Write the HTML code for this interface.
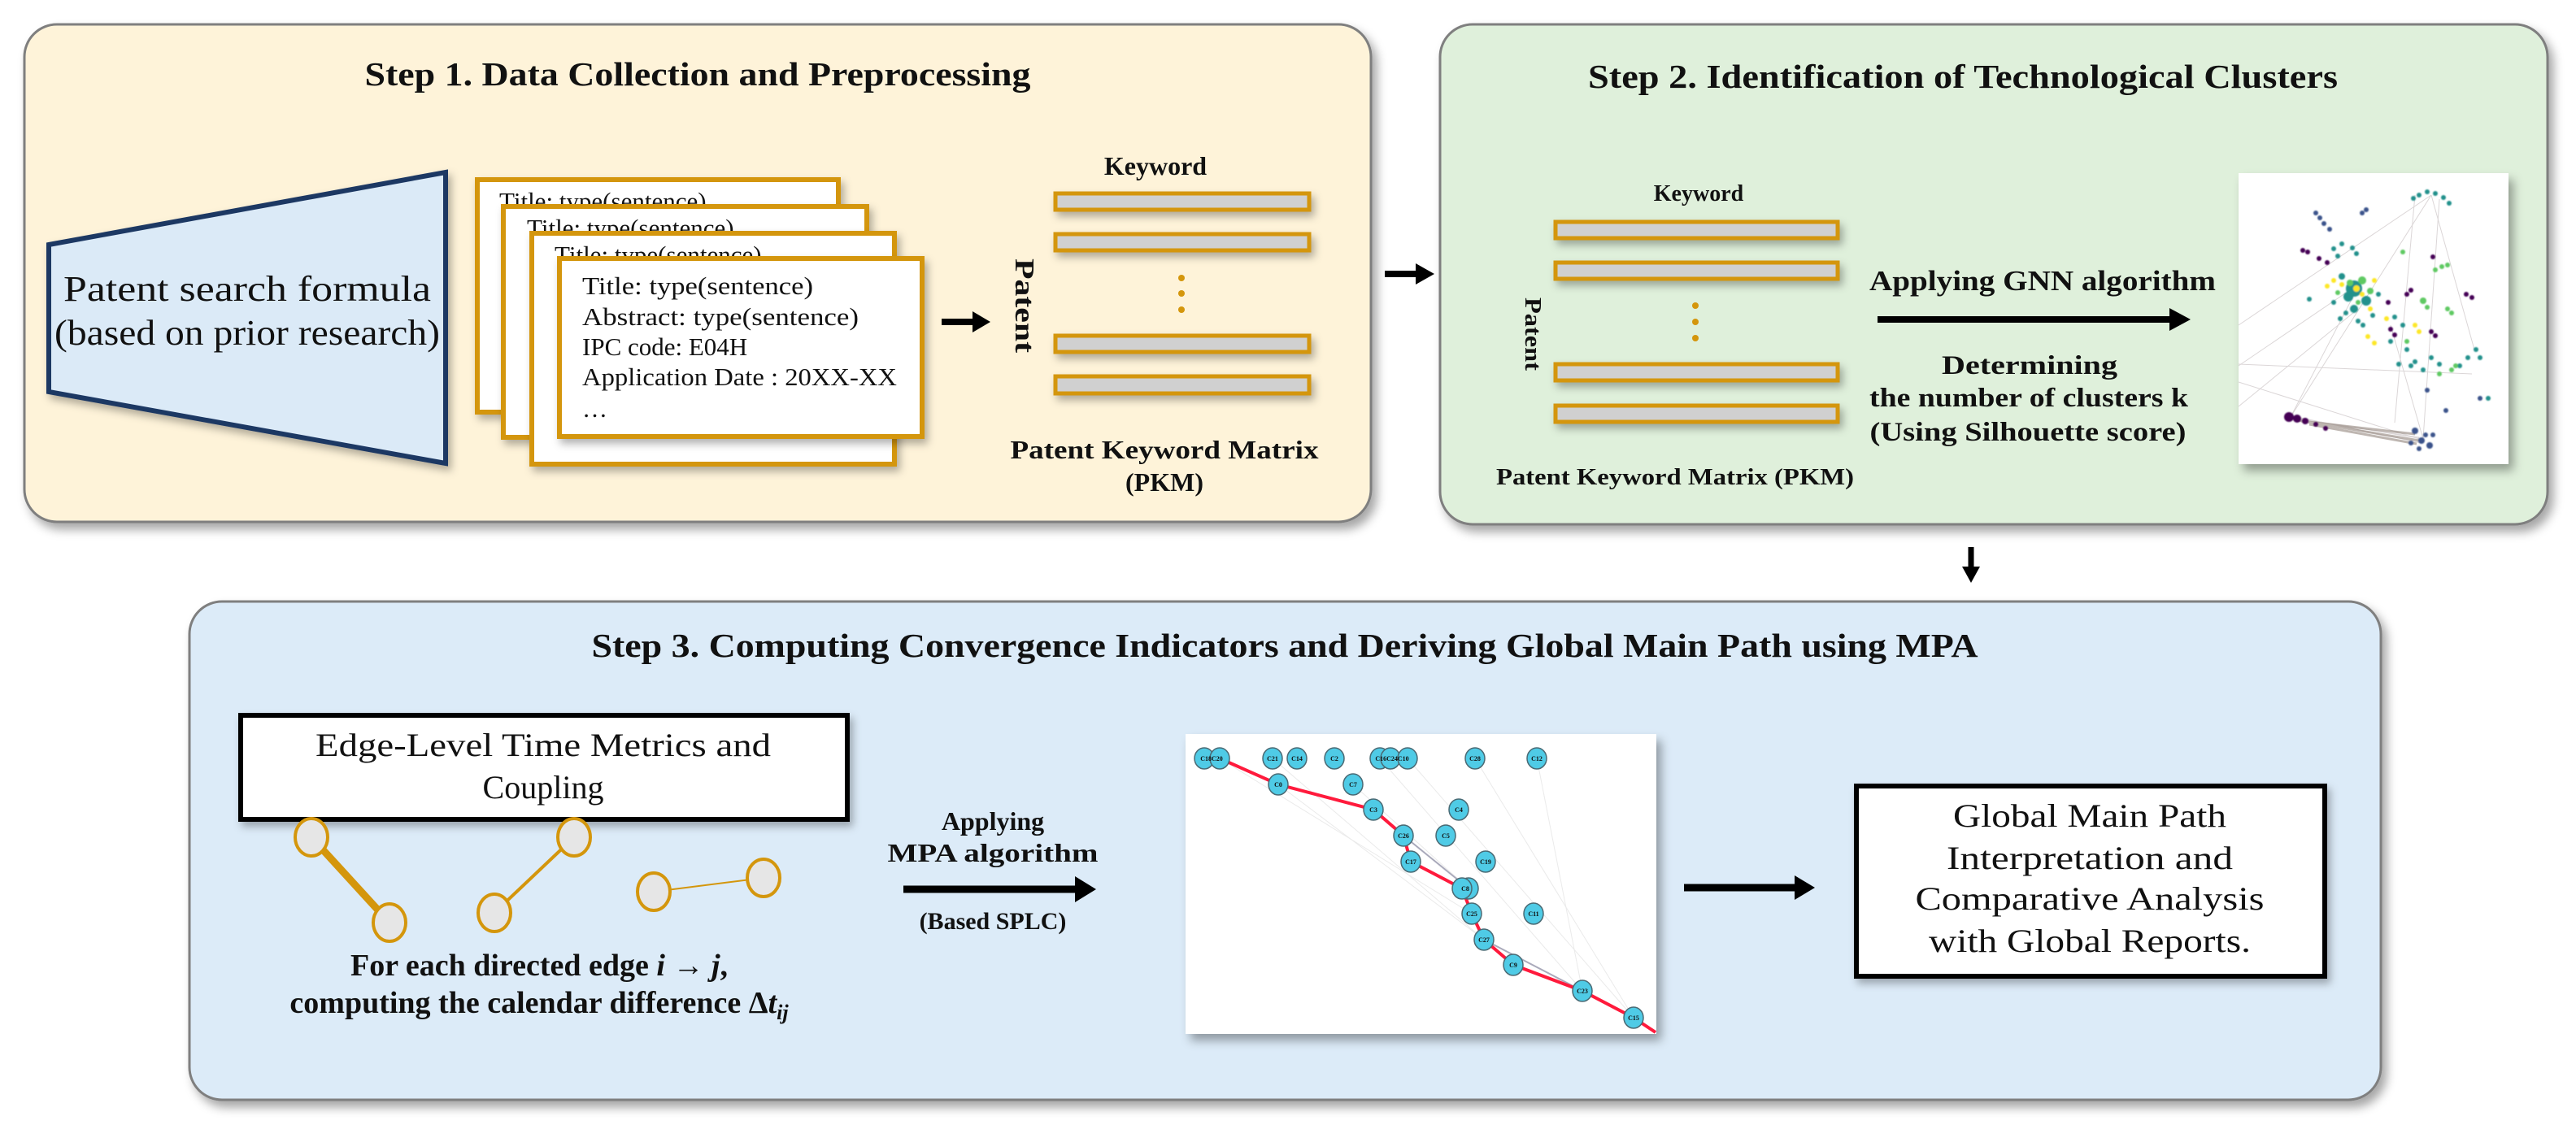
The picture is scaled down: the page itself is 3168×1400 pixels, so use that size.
<!DOCTYPE html>
<html><head><meta charset="utf-8"><style>
html,body{margin:0;padding:0;background:#fff;}
svg{display:block;}
text{font-family:"Liberation Serif",serif;fill:#111;}
</style></head><body>
<svg width="3168" height="1400" viewBox="0 0 3168 1400" xmlns="http://www.w3.org/2000/svg">
<defs>
<filter id="sh" x="-10%" y="-10%" width="130%" height="130%"><feDropShadow dx="6" dy="8" stdDeviation="6" flood-color="#000" flood-opacity="0.35"/></filter>
<filter id="sh2" x="-10%" y="-10%" width="130%" height="130%"><feDropShadow dx="4" dy="6" stdDeviation="5" flood-color="#000" flood-opacity="0.3"/></filter>
<filter id="bl"><feGaussianBlur stdDeviation="0.8"/></filter>
</defs>

<!-- STEP 1 panel -->
<rect x="30" y="30" width="1656" height="612" rx="40" fill="#fef3d9" stroke="#7f7f7f" stroke-width="3" filter="url(#sh)"/>
<text x="858" y="105" font-size="41" font-weight="bold" text-anchor="middle" textLength="819" lengthAdjust="spacingAndGlyphs">Step 1. Data Collection and Preprocessing</text>

<polygon points="60,301 548,212 548,570 60,482" fill="#dbeaf7" stroke="#1f3864" stroke-width="6" filter="url(#sh2)"/>
<text x="304" y="370" font-size="44" text-anchor="middle" textLength="452" lengthAdjust="spacingAndGlyphs">Patent search formula</text>
<text x="304" y="424" font-size="44" text-anchor="middle" textLength="474" lengthAdjust="spacingAndGlyphs">(based on prior research)</text>

<rect x="587" y="221" width="444" height="286" fill="#fff" stroke="#d4960c" stroke-width="6" filter="url(#sh2)"/>
<text x="614" y="258" font-size="31">Title: type(sentence)</text>
<rect x="619" y="254" width="447" height="284" fill="#fff" stroke="#d4960c" stroke-width="6" filter="url(#sh2)"/>
<text x="648" y="291" font-size="31">Title: type(sentence)</text>
<rect x="654" y="287" width="446" height="284" fill="#fff" stroke="#d4960c" stroke-width="6" filter="url(#sh2)"/>
<text x="682" y="324" font-size="31">Title: type(sentence)</text>
<rect x="688" y="318" width="446" height="219" fill="#fff" stroke="#d4960c" stroke-width="6" filter="url(#sh2)"/>
<g font-size="31">
<text x="716" y="362" textLength="284" lengthAdjust="spacingAndGlyphs">Title: type(sentence)</text>
<text x="716" y="400" textLength="340" lengthAdjust="spacingAndGlyphs">Abstract: type(sentence)</text>
<text x="716" y="437">IPC code: E04H</text>
<text x="716" y="474" textLength="387" lengthAdjust="spacingAndGlyphs">Application Date : 20XX-XX</text>
<text x="716" y="513">…</text>
</g>

<line x1="1158" y1="396" x2="1200" y2="396" stroke="#000" stroke-width="8"/>
<polygon points="1196,383 1218,396 1196,409" fill="#000"/>

<text transform="translate(1249,376) rotate(90)" font-size="34" font-weight="bold" text-anchor="middle" textLength="116" lengthAdjust="spacingAndGlyphs">Patent</text>
<text x="1421" y="215" font-size="32" font-weight="bold" text-anchor="middle">Keyword</text>
<g fill="#d0d0d0" stroke="#d4960c" stroke-width="5" filter="url(#sh2)">
<rect x="1298" y="238" width="312" height="20"/>
<rect x="1298" y="288" width="312" height="20"/>
<rect x="1298" y="413" width="312" height="20"/>
<rect x="1298" y="463" width="312" height="21"/>
</g>
<g fill="#d4960c"><circle cx="1453" cy="342" r="4"/><circle cx="1453" cy="361" r="4"/><circle cx="1453" cy="381" r="4"/></g>
<text x="1432" y="564" font-size="32" font-weight="bold" text-anchor="middle" textLength="379" lengthAdjust="spacingAndGlyphs">Patent Keyword Matrix</text>
<text x="1432" y="604" font-size="32" font-weight="bold" text-anchor="middle">(PKM)</text>

<line x1="1703" y1="337" x2="1745" y2="337" stroke="#000" stroke-width="8"/>
<polygon points="1741,324 1764,337 1741,350" fill="#000"/>

<!-- STEP 2 panel -->
<rect x="1771" y="30" width="1362" height="615" rx="40" fill="#dff0db" stroke="#7f7f7f" stroke-width="3" filter="url(#sh)"/>
<text x="2414" y="108" font-size="41" font-weight="bold" text-anchor="middle" textLength="922" lengthAdjust="spacingAndGlyphs">Step 2. Identification of Technological Clusters</text>
<text x="2089" y="247" font-size="28" font-weight="bold" text-anchor="middle">Keyword</text>
<g fill="#d0d0d0" stroke="#d4960c" stroke-width="5" filter="url(#sh2)">
<rect x="1913" y="273" width="347" height="20"/>
<rect x="1913" y="323" width="347" height="20"/>
<rect x="1913" y="448" width="347" height="20"/>
<rect x="1913" y="499" width="347" height="20"/>
</g>
<g fill="#d4960c"><circle cx="2085" cy="376" r="4"/><circle cx="2085" cy="396" r="4"/><circle cx="2085" cy="416" r="4"/></g>
<text transform="translate(1876,411) rotate(90)" font-size="28" font-weight="bold" text-anchor="middle" textLength="90" lengthAdjust="spacingAndGlyphs">Patent</text>
<text x="2060" y="596" font-size="28" font-weight="bold" text-anchor="middle" textLength="440" lengthAdjust="spacingAndGlyphs">Patent Keyword Matrix (PKM)</text>
<text x="2512" y="357" font-size="35" font-weight="bold" text-anchor="middle" textLength="426" lengthAdjust="spacingAndGlyphs">Applying GNN algorithm</text>
<line x1="2309" y1="393" x2="2672" y2="393" stroke="#000" stroke-width="8"/>
<polygon points="2668,379 2694,393 2668,407" fill="#000"/>
<g font-size="33" font-weight="bold" text-anchor="middle">
<text x="2496" y="460" textLength="216" lengthAdjust="spacingAndGlyphs">Determining</text>
<text x="2495" y="500" textLength="392" lengthAdjust="spacingAndGlyphs">the number of clusters k</text>
<text x="2494" y="542" textLength="389" lengthAdjust="spacingAndGlyphs">(Using Silhouette score)</text>
</g>

<!-- scatter image -->
<rect x="2753" y="213" width="332" height="358" fill="#fff" filter="url(#sh)"/>
<g stroke="#b8aeb0" stroke-width="1" opacity="0.5">
<line x1="2817" y1="513" x2="2980" y2="540"/><line x1="2820" y1="512" x2="2978" y2="545"/><line x1="2822" y1="515" x2="2975" y2="538"/>
<line x1="2817" y1="513" x2="2900" y2="353"/><line x1="2817" y1="513" x2="2990" y2="240"/><line x1="2980" y1="540" x2="3000" y2="245"/>
<line x1="2990" y1="240" x2="3043" y2="430"/><line x1="2753" y1="450" x2="2900" y2="350"/><line x1="2753" y1="400" x2="2990" y2="240"/>
<line x1="2980" y1="540" x2="2940" y2="400"/><line x1="2753" y1="448" x2="3040" y2="460"/><line x1="2970" y1="240" x2="2945" y2="520"/>
<line x1="2753" y1="470" x2="2975" y2="540"/><line x1="2753" y1="500" x2="2900" y2="380"/>
</g>
<g stroke="#8a7c72" stroke-width="3" opacity="0.55">
<line x1="2825" y1="517" x2="2975" y2="542"/><line x1="2830" y1="518" x2="2970" y2="534"/><line x1="2840" y1="522" x2="2972" y2="546"/>
</g>
<g filter="url(#bl)">
<g fill="#21918c">
<circle cx="2895" cy="355" r="10"/><circle cx="2888" cy="365" r="6"/><circle cx="2910" cy="370" r="6"/><circle cx="2895" cy="380" r="5"/><circle cx="2880" cy="340" r="4"/>
<circle cx="2885" cy="385" r="3"/><circle cx="2878" cy="392" r="3"/><circle cx="2900" cy="395" r="3"/><circle cx="2870" cy="372" r="3"/><circle cx="2925" cy="362" r="3"/><circle cx="2918" cy="388" r="3"/><circle cx="2906" cy="400" r="3"/>
<circle cx="2975" cy="240" r="3"/><circle cx="2985" cy="236" r="3"/><circle cx="2995" cy="238" r="3"/><circle cx="3005" cy="243" r="3"/><circle cx="3012" cy="250" r="3"/><circle cx="2968" cy="244" r="3"/>
<circle cx="2880" cy="300" r="3"/><circle cx="2893" cy="305" r="3"/><circle cx="2898" cy="312" r="3"/><circle cx="2870" cy="306" r="3"/><circle cx="2875" cy="315" r="3"/>
<circle cx="2960" cy="430" r="3"/><circle cx="2965" cy="450" r="3"/><circle cx="2970" cy="445" r="3"/><circle cx="2980" cy="455" r="3"/><circle cx="3045" cy="430" r="3"/><circle cx="3050" cy="440" r="3"/><circle cx="3035" cy="440" r="3"/>
<circle cx="2950" cy="448" r="3"/><circle cx="3060" cy="490" r="3"/><circle cx="2840" cy="368" r="3"/><circle cx="2990" cy="440" r="3"/><circle cx="3000" cy="448" r="3"/><circle cx="3025" cy="450" r="3"/>
<circle cx="2945" cy="390" r="3"/><circle cx="2955" cy="400" r="3"/><circle cx="2940" cy="420" r="3"/>
</g>
<g fill="#3b528b">
<circle cx="2848" cy="262" r="3"/><circle cx="2853" cy="268" r="3"/><circle cx="2858" cy="275" r="3"/><circle cx="2865" cy="282" r="3"/><circle cx="2905" cy="262" r="3"/><circle cx="2910" cy="258" r="3"/>
<circle cx="2970" cy="530" r="4"/><circle cx="2978" cy="542" r="4"/><circle cx="2988" cy="548" r="4"/><circle cx="2983" cy="535" r="3"/><circle cx="2965" cy="545" r="3"/><circle cx="2992" cy="535" r="3"/><circle cx="2975" cy="552" r="3"/>
<circle cx="2985" cy="480" r="3"/><circle cx="3008" cy="505" r="3"/><circle cx="3050" cy="490" r="3"/>
</g>
<g fill="#440154">
<circle cx="2815" cy="513" r="6"/><circle cx="2825" cy="515" r="5"/><circle cx="2835" cy="518" r="4"/><circle cx="2848" cy="522" r="3"/><circle cx="2860" cy="527" r="3"/>
<circle cx="2838" cy="310" r="3"/><circle cx="2832" cy="308" r="3"/><circle cx="2852" cy="318" r="3"/><circle cx="2862" cy="323" r="3"/>
<circle cx="2960" cy="362" r="3"/><circle cx="2965" cy="357" r="3"/><circle cx="2940" cy="405" r="3"/><circle cx="2945" cy="412" r="3"/><circle cx="2990" cy="408" r="3"/><circle cx="2995" cy="413" r="3"/>
<circle cx="3033" cy="362" r="3"/><circle cx="3040" cy="366" r="3"/><circle cx="2992" cy="316" r="3"/><circle cx="2937" cy="372" r="3"/>
</g>
<g fill="#5ec962">
<circle cx="2905" cy="345" r="5"/><circle cx="2915" cy="358" r="4"/><circle cx="2890" cy="348" r="4"/><circle cx="2995" cy="332" r="3"/><circle cx="3003" cy="328" r="3"/><circle cx="3010" cy="326" r="3"/>
<circle cx="2980" cy="370" r="4"/><circle cx="2985" cy="378" r="3"/><circle cx="3010" cy="380" r="3"/><circle cx="3015" cy="385" r="3"/><circle cx="3015" cy="455" r="3"/><circle cx="3020" cy="450" r="3"/><circle cx="2955" cy="310" r="3"/>
<circle cx="2875" cy="360" r="3"/><circle cx="2900" cy="372" r="3"/><circle cx="2960" cy="420" r="3"/><circle cx="3000" cy="460" r="3"/>
</g>
<g fill="#fde725">
<circle cx="2898" cy="355" r="4"/><circle cx="2905" cy="362" r="3"/><circle cx="2880" cy="350" r="3"/><circle cx="2870" cy="345" r="3"/><circle cx="2920" cy="345" r="3"/><circle cx="2915" cy="380" r="3"/>
<circle cx="2912" cy="414" r="3"/><circle cx="2920" cy="422" r="3"/><circle cx="2970" cy="400" r="3"/><circle cx="2975" cy="408" r="3"/><circle cx="2935" cy="392" r="3"/><circle cx="2862" cy="352" r="3"/>
</g>
</g>

<line x1="2424" y1="673" x2="2424" y2="700" stroke="#000" stroke-width="7"/>
<polygon points="2413,697 2435,697 2424,717" fill="#000"/>

<!-- STEP 3 panel -->
<rect x="233" y="740" width="2695" height="613" rx="40" fill="#dcebf8" stroke="#7f7f7f" stroke-width="3" filter="url(#sh)"/>
<text x="1580" y="808" font-size="41" font-weight="bold" text-anchor="middle" textLength="1705" lengthAdjust="spacingAndGlyphs">Step 3. Computing Convergence Indicators and Deriving Global Main Path using MPA</text>

<rect x="296" y="880" width="746" height="128" fill="#fff" stroke="#000" stroke-width="6" filter="url(#sh2)"/>
<text x="668" y="930" font-size="40" text-anchor="middle" textLength="560" lengthAdjust="spacingAndGlyphs">Edge-Level Time Metrics and</text>
<text x="668" y="982" font-size="40" text-anchor="middle">Coupling</text>

<g stroke="#d4960c" fill="#e6e6e6">
<line x1="383" y1="1030" x2="479" y2="1135" stroke-width="9"/>
<line x1="608" y1="1123" x2="706" y2="1030" stroke-width="4"/>
<line x1="804" y1="1097" x2="939" y2="1080" stroke-width="2"/>
<ellipse cx="383" cy="1030" rx="20" ry="23" stroke-width="4"/>
<ellipse cx="479" cy="1135" rx="20" ry="23" stroke-width="4"/>
<ellipse cx="608" cy="1123" rx="20" ry="23" stroke-width="4"/>
<ellipse cx="706" cy="1030" rx="20" ry="23" stroke-width="4"/>
<ellipse cx="804" cy="1097" rx="20" ry="23" stroke-width="4"/>
<ellipse cx="939" cy="1080" rx="20" ry="23" stroke-width="4"/>
</g>
<text x="663" y="1200" font-size="38" font-weight="bold" text-anchor="middle">For each directed edge <tspan font-style="italic">i</tspan> → <tspan font-style="italic">j</tspan>,</text>
<text x="663" y="1246" font-size="38" font-weight="bold" text-anchor="middle">computing the calendar difference Δ<tspan font-style="italic">t</tspan><tspan font-style="italic" font-size="26" dy="8">ij</tspan></text>

<text x="1221" y="1021" font-size="32" font-weight="bold" text-anchor="middle">Applying</text>
<text x="1221" y="1060" font-size="32" font-weight="bold" text-anchor="middle" textLength="259" lengthAdjust="spacingAndGlyphs">MPA algorithm</text>
<line x1="1111" y1="1094" x2="1325" y2="1094" stroke="#000" stroke-width="9"/>
<polygon points="1322,1078 1348,1094 1322,1110" fill="#000"/>
<text x="1221" y="1143" font-size="30" font-weight="bold" text-anchor="middle">(Based SPLC)</text>

<!-- MPA image -->
<rect x="1458" y="903" width="579" height="369" fill="#fff" filter="url(#sh)"/>
<g stroke="#ddd" stroke-width="1" opacity="0.6">
<line x1="1500" y1="933" x2="1810" y2="1124"/><line x1="1565" y1="933" x2="1861" y2="1187"/><line x1="1697" y1="933" x2="1946" y2="1219"/>
<line x1="1731" y1="933" x2="2009" y2="1252"/><line x1="1814" y1="933" x2="2009" y2="1252"/><line x1="1890" y1="933" x2="1946" y2="1219"/>
<line x1="1572" y1="965" x2="1825" y2="1156"/><line x1="1664" y1="965" x2="1806" y2="1093"/>
</g>
<g stroke="#aab" stroke-width="2" fill="none"><line x1="1726" y1="1028" x2="1806" y2="1093"/><line x1="1825" y1="1156" x2="1946" y2="1219"/></g>
<polyline points="1500,933 1572,965 1689,996 1726,1028 1735,1060 1798,1093 1810,1124 1825,1156 1861,1187 1946,1219 2009,1252 2036,1270" fill="none" stroke="#ff1a3c" stroke-width="4"/>
<g fill="#4fcbe6" stroke="#4a6a74" stroke-width="1.5">
<ellipse cx="1481" cy="933" rx="12" ry="13"/><ellipse cx="1500" cy="933" rx="12" ry="13"/><ellipse cx="1565" cy="933" rx="12" ry="13"/><ellipse cx="1595" cy="933" rx="12" ry="13"/><ellipse cx="1641" cy="933" rx="12" ry="13"/>
<ellipse cx="1697" cy="933" rx="12" ry="13"/><ellipse cx="1710" cy="933" rx="12" ry="13"/><ellipse cx="1731" cy="933" rx="12" ry="13"/><ellipse cx="1814" cy="933" rx="12" ry="13"/><ellipse cx="1890" cy="933" rx="12" ry="13"/>
<ellipse cx="1572" cy="965" rx="12" ry="13"/><ellipse cx="1664" cy="965" rx="12" ry="13"/><ellipse cx="1689" cy="996" rx="12" ry="13"/><ellipse cx="1794" cy="996" rx="12" ry="13"/>
<ellipse cx="1726" cy="1028" rx="12" ry="13"/><ellipse cx="1778" cy="1028" rx="12" ry="13"/><ellipse cx="1735" cy="1060" rx="12" ry="13"/><ellipse cx="1827" cy="1060" rx="12" ry="13"/>
<ellipse cx="1806" cy="1093" rx="12" ry="13"/><ellipse cx="1798" cy="1093" rx="12" ry="13"/><ellipse cx="1810" cy="1124" rx="12" ry="13"/><ellipse cx="1886" cy="1124" rx="12" ry="13"/>
<ellipse cx="1825" cy="1156" rx="12" ry="13"/><ellipse cx="1861" cy="1187" rx="12" ry="13"/><ellipse cx="1946" cy="1219" rx="12" ry="13"/><ellipse cx="2009" cy="1252" rx="12" ry="13"/>
</g>
<g font-size="8" font-weight="bold" text-anchor="middle">
<text x="1490" y="936">C18C20</text><text x="1565" y="936">C21</text><text x="1595" y="936">C14</text><text x="1641" y="936">C2</text><text x="1712" y="936">C16C24C10</text><text x="1814" y="936">C28</text><text x="1890" y="936">C12</text>
<text x="1572" y="968">C0</text><text x="1664" y="968">C7</text><text x="1689" y="999">C3</text><text x="1794" y="999">C4</text><text x="1726" y="1031">C26</text><text x="1778" y="1031">C5</text>
<text x="1735" y="1063">C17</text><text x="1827" y="1063">C19</text><text x="1802" y="1096">C8</text><text x="1810" y="1127">C25</text><text x="1886" y="1127">C11</text>
<text x="1825" y="1159">C27</text><text x="1861" y="1190">C9</text><text x="1946" y="1222">C23</text><text x="2009" y="1255">C15</text>
</g>

<line x1="2071" y1="1092" x2="2210" y2="1092" stroke="#000" stroke-width="9"/>
<polygon points="2207,1077 2232,1092 2207,1107" fill="#000"/>

<rect x="2283" y="967" width="576" height="234" fill="#fff" stroke="#000" stroke-width="6" filter="url(#sh2)"/>
<g font-size="40" text-anchor="middle">
<text x="2570" y="1017" textLength="336" lengthAdjust="spacingAndGlyphs">Global Main Path</text>
<text x="2570" y="1069" textLength="352" lengthAdjust="spacingAndGlyphs">Interpretation and</text>
<text x="2570" y="1119" textLength="429" lengthAdjust="spacingAndGlyphs">Comparative Analysis</text>
<text x="2570" y="1171" textLength="396" lengthAdjust="spacingAndGlyphs">with Global Reports.</text>
</g>
</svg>
</body></html>
